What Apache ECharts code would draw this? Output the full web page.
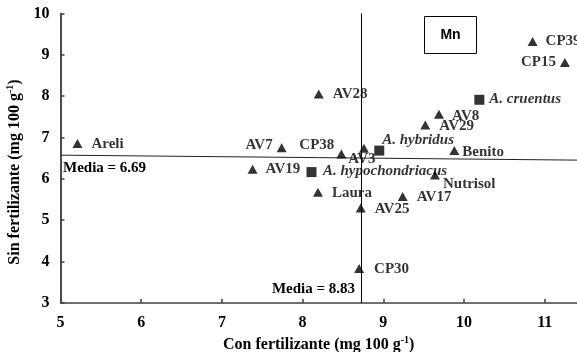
<!DOCTYPE html>
<html><head><meta charset="utf-8">
<script src="https://cdn.jsdelivr.net/npm/echarts@6/dist/echarts.min.js"></script>
<style>html,body{margin:0;padding:0;background:#fff}#c{width:577px;height:352px}</style>
</head><body><div id="c"></div>
<script>
// ---- data ----
const triNames = ['Areli','AV7','AV19','CP38','AV3','AV28','AV8','AV29','Benito','CP39','CP15','Nutrisol','Laura','AV17','AV25','CP30'];
const triX = [5.21, 7.74, 7.38, 8.48, 8.76, 8.20, 9.69, 9.52, 9.88, 10.85, 11.25, 9.64, 8.19, 9.24, 8.72, 8.70];
const triY = [6.85, 6.75, 6.23, 6.60, 6.74, 8.05, 7.56, 7.30, 6.68, 9.32, 8.81, 6.09, 5.67, 5.57, 5.29, 3.83];
const sqNames = ['A. hybridus','A. hypochondriacus','A. cruentus'];
const sqX = [8.95, 8.11, 10.19];
const sqY = [6.68, 6.16, 7.91];
const meanX = 8.73;           // vertical mean line (drawn position)
const meanYStart = 6.57;      // horizontal mean line, left end
const meanYEnd = 6.45;        // horizontal mean line, right end
const xTicks = [5,6,7,8,9,10,11];
const yTicks = [3,4,5,6,7,8,9,10];

// ---- label layout (style only) ----
const lab = {
  'Areli':['right',9,1], 'AV7':['left',4,-2.5], 'AV19':['right',8,0], 'CP38':['left',2,-9],
  'AV3':['inside',0,11,-2], 'AV28':['right',9,0], 'AV8':['right',8,1.4], 'AV29':['right',9,1.4],
  'Benito':['right',3,1.6], 'CP39':['right',8,0], 'CP15':['left',4,0], 'Nutrisol':['right',3,9],
  'Laura':['right',9,1], 'AV17':['right',9,0.6], 'AV25':['right',9,1], 'CP30':['right',10,0.7],
  'A. hybridus':['right',-2,-10.7], 'A. hypochondriacus':['right',6.5,-1], 'A. cruentus':['right',5,-1]
};
const serif = '"Liberation Serif","Times New Roman",serif';
function mk(names, xs, ys, italic){
  return names.map((n,i)=>{
    const l = lab[n];
    return {value:[xs[i], ys[i]], name:n, label:{show:true, formatter:n, position:l[0], distance:l[1],
      offset:[l[3]||0, l[2]], fontFamily:serif, fontWeight:'bold', fontSize:15, color:'#000',
      fontStyle: italic ? 'italic' : 'normal'}};
  });
}

const chart = echarts.init(document.getElementById('c'), null, {renderer:'canvas'});
chart.setOption({
  animation:false,
  grid:{left:60.5, right:0, top:13.4, bottom:49.3, containLabel:false, outerBoundsMode:'none'},
  xAxis:{type:'value', min:5, max:11.4, interval:1,
    axisLine:{show:true, lineStyle:{color:'#404040', width:1.5}},
    axisTick:{show:true, inside:true, length:4, lineStyle:{color:'#404040', width:1.5}},
    splitLine:{show:false},
    axisLabel:{margin:12, fontFamily:serif, fontWeight:'bold', fontSize:16, color:'#000',
      formatter:v=> xTicks.indexOf(v)>=0 ? String(v) : '', showMaxLabel:false},
    name:'{t|Con fertilizante (mg 100 g}{s|-1}{t|)}', nameLocation:'middle', nameGap:31,
    nameTextStyle:{rich:{t:{fontFamily:serif, fontWeight:'bold', fontSize:16, color:'#000'},
      s:{fontFamily:serif, fontWeight:'bold', fontSize:10, color:'#000', verticalAlign:'top', padding:[0,0,8,0]}}}
  },
  yAxis:{type:'value', min:3, max:10, interval:1,
    axisLine:{show:true, lineStyle:{color:'#111', width:1.5}},
    axisTick:{show:true, inside:true, length:4, lineStyle:{color:'#404040', width:1.5}},
    splitLine:{show:false},
    axisLabel:{margin:11, fontFamily:serif, fontWeight:'bold', fontSize:16, color:'#000',
      formatter:v=> yTicks.indexOf(v)>=0 ? String(v) : ''},
    name:'{t|Sin fertilizante (mg 100 g}{s|-1}{t|)}', nameLocation:'middle', nameGap:25,
    nameTextStyle:{padding:[0,28,0,0], rich:{t:{fontFamily:serif, fontWeight:'bold', fontSize:16, color:'#000'},
      s:{fontFamily:serif, fontWeight:'bold', fontSize:10, color:'#000', verticalAlign:'top', padding:[0,0,8,0]}}}
  },
  series:[
    {type:'line', data:[[meanX,3],[meanX,10]], symbol:'none', lineStyle:{color:'#000', width:1}, z:1, silent:true},
    {type:'line', data:[[5,meanYStart],[11.4,meanYEnd]], symbol:'none', lineStyle:{color:'#222', width:1}, z:1, silent:true},
    {type:'scatter', symbol:'triangle', symbolSize:[10,9], itemStyle:{color:'#000'}, data:mk(triNames,triX,triY,false), z:3},
    {type:'scatter', symbol:'rect', symbolSize:10, itemStyle:{color:'#000'}, data:mk(sqNames,sqX,sqY,true), z:3}
  ],
  graphic:[
    {type:'rect', shape:{x:424.5, y:16.5, width:52, height:37}, style:{fill:'#fff', stroke:'#000', lineWidth:1}},
    {type:'text', x:450.5, y:35, style:{text:'Mn', font:'bold 14px "Liberation Sans", Arial, sans-serif', fill:'#000', align:'center', verticalAlign:'middle'}},
    {type:'text', x:63, y:168, style:{text:'Media = 6.69', font:'bold 15px "Liberation Serif", serif', fill:'#000', align:'left', verticalAlign:'middle'}},
    {type:'text', x:355, y:289, style:{text:'Media = 8.83', font:'bold 15px "Liberation Serif", serif', fill:'#000', align:'right', verticalAlign:'middle'}}
  ]
});
</script></body></html>
